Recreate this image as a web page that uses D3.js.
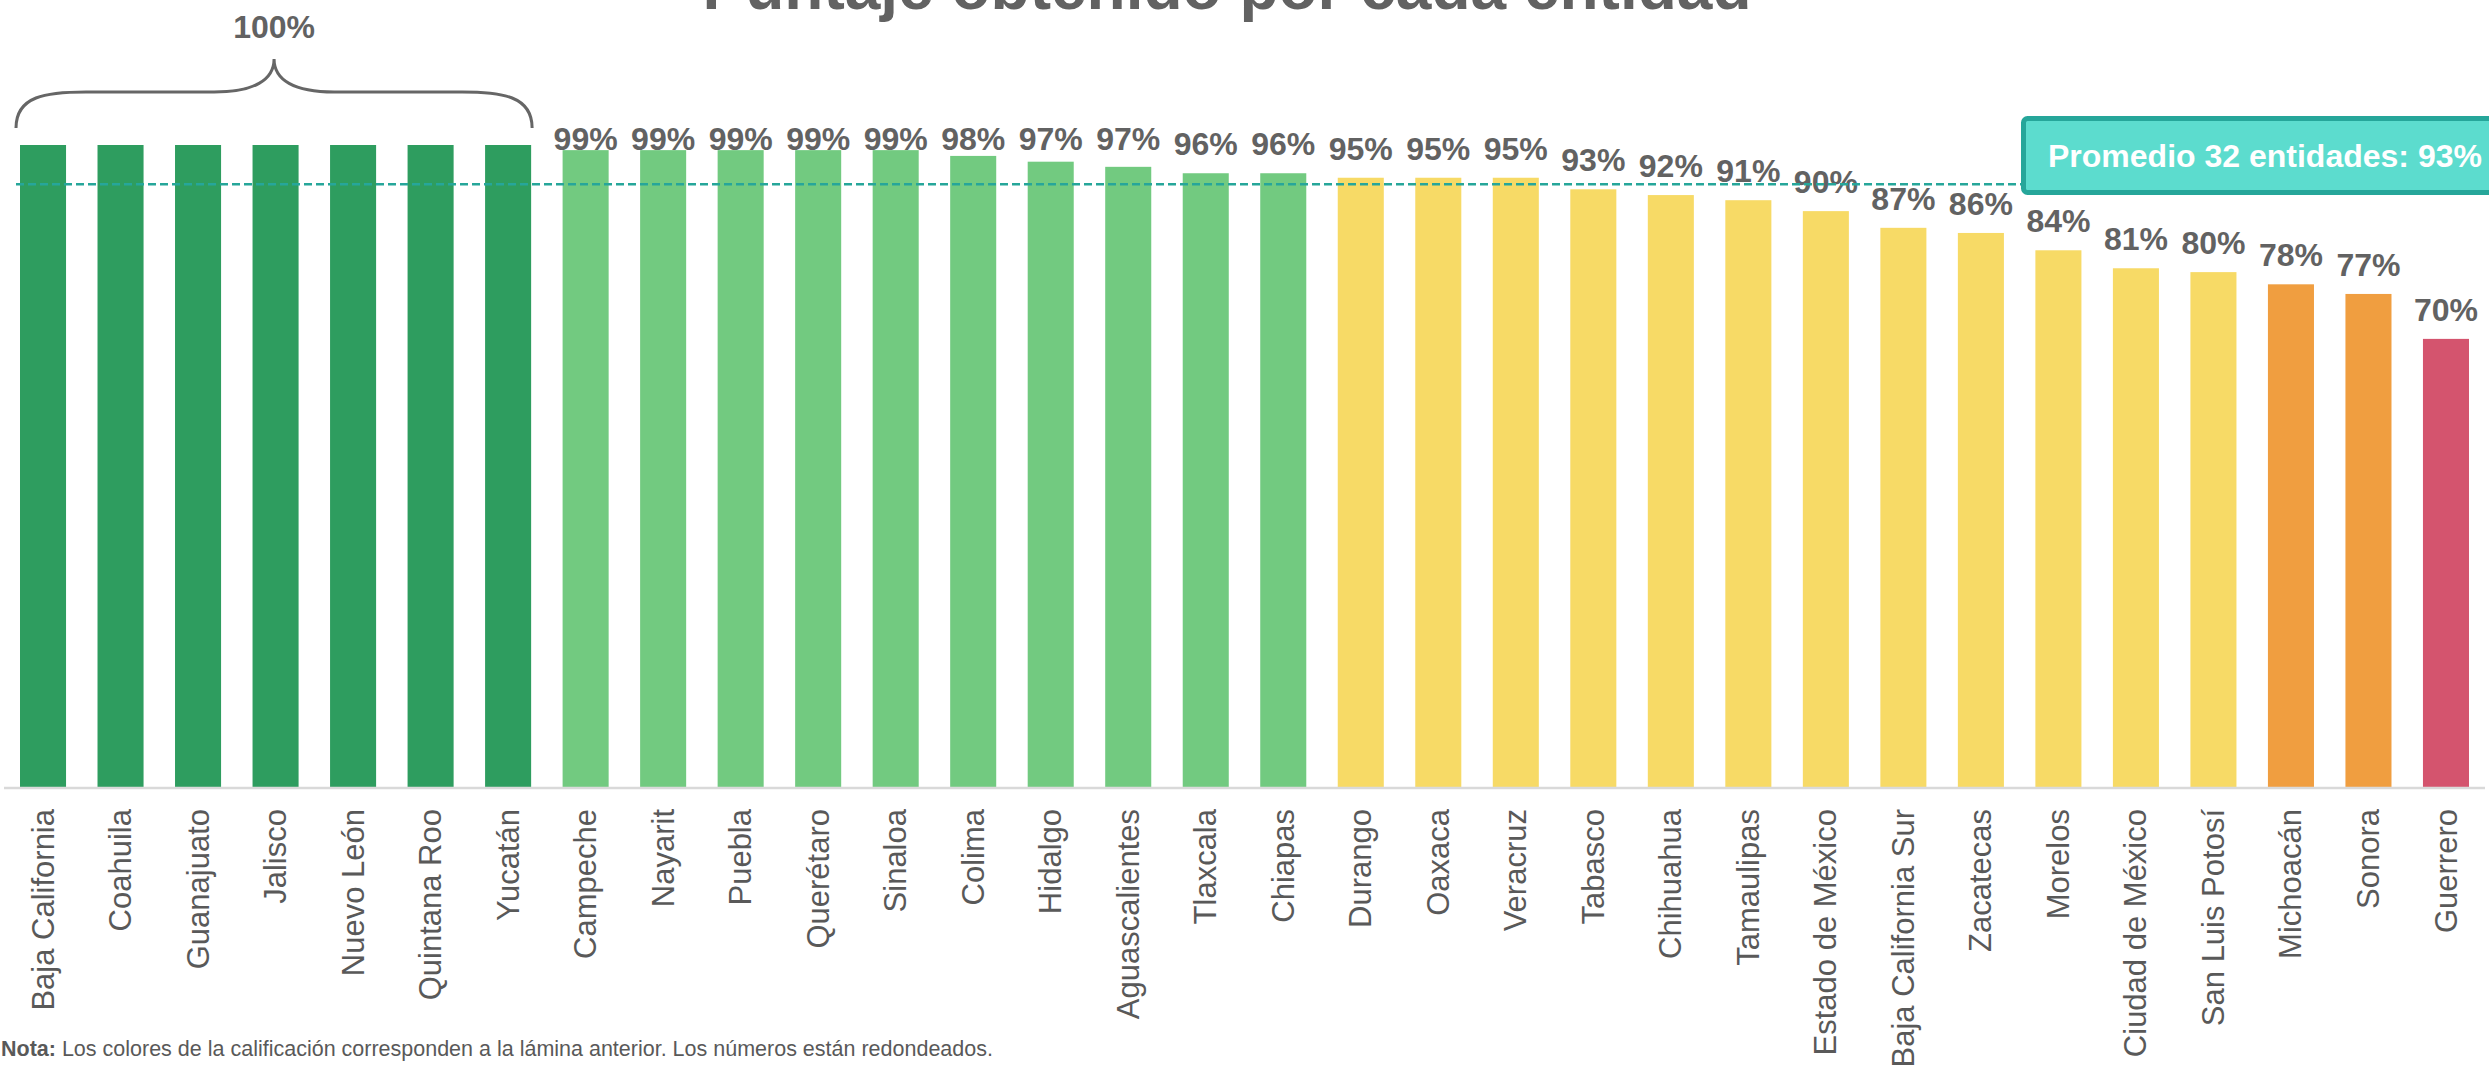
<!DOCTYPE html>
<html lang="es">
<head>
<meta charset="utf-8">
<title>Puntaje obtenido por cada entidad</title>
<script src="https://cdn.jsdelivr.net/npm/d3@7"></script>
<style>
    body { margin: 0; background: #ffffff; }
    svg { display: block; font-family: "Liberation Sans", Arial, sans-serif; }
</style>
</head>
<body>
<svg id="chart"></svg>
<script>
const estados = [
    "Baja California", "Coahuila", "Guanajuato", "Jalisco", "Nuevo León", "Quintana Roo", "Yucatán",
    "Campeche", "Nayarit", "Puebla", "Querétaro", "Sinaloa", "Colima", "Hidalgo", "Aguascalientes",
    "Tlaxcala", "Chiapas", "Durango", "Oaxaca", "Veracruz", "Tabasco", "Chihuahua", "Tamaulipas",
    "Estado de México", "Baja California Sur", "Zacatecas", "Morelos", "Ciudad de México",
    "San Luis Potosí", "Michoacán", "Sonora", "Guerrero"
];
const puntajes = [
    1.0, 1.0, 1.0, 1.0, 1.0, 1.0, 1.0,
    0.992, 0.992, 0.992, 0.992, 0.992, 0.983, 0.974, 0.966,
    0.956, 0.956, 0.949, 0.949, 0.949, 0.931, 0.922, 0.914,
    0.897, 0.871, 0.863, 0.836, 0.808,
    0.802, 0.783, 0.768, 0.698
];
// Entidades agrupadas bajo la llave de 100%
const grupoCien = ["Baja California", "Yucatán"];
const promedioTexto = "Promedio 32 entidades: 93%";
const promedioLinea = 0.939;
const titulo = "Puntaje obtenido por cada entidad";

const width = 2489;
const height = 1072;
const baseY = 787;

const svg = d3.select("#chart")
    .attr("width", width)
    .attr("height", height);

const x = d3.scaleBand()
    .domain(estados)
    .range([0, width])
    .paddingInner(0.406)
    .paddingOuter(0.258);

const y = d3.scaleLinear()
    .domain([0, 1])
    .range([baseY, 145]);

// Color según la calificación
const color = d3.scaleThreshold()
    .domain([0.75, 0.79, 0.955, 0.9995])
    .range(["#d4546e", "#f09e40", "#f7da66", "#72ca80", "#2e9d5f"]);

const fmt = d3.format(".0%");
const data = estados.map((e, i) => ({ estado: e, valor: puntajes[i] }));

// Title (cut off at top like the original)
svg.append("text")
    .attr("x", 1227)
    .attr("y", 9)
    .attr("text-anchor", "middle")
    .style("font-size", "64px")
    .style("font-weight", "bold")
    .style("fill", "#626262")
    .text(titulo);

// Bars
svg.append("g")
    .selectAll("rect")
    .data(data)
    .enter()
    .append("rect")
    .attr("x", d => x(d.estado))
    .attr("y", d => y(d.valor))
    .attr("width", x.bandwidth())
    .attr("height", d => baseY - y(d.valor))
    .attr("fill", d => color(d.valor));

// Axis line
svg.append("line")
    .attr("x1", 4)
    .attr("x2", width - 4)
    .attr("y1", baseY + 1)
    .attr("y2", baseY + 1)
    .attr("stroke", "#d9d9d9")
    .attr("stroke-width", 2.5);

// Category labels, rotated
svg.append("g")
    .selectAll("text")
    .data(data)
    .enter()
    .append("text")
    .attr("transform", d => `translate(${x(d.estado) + x.bandwidth() / 2}, 809) rotate(-90)`)
    .attr("text-anchor", "end")
    .attr("dy", "0.34em")
    .style("font-size", "31px")
    .style("fill", "#595959")
    .text(d => d.estado);

// Value labels (not for the 100% group)
const topeEtiqueta = y(1) + 5;
svg.append("g")
    .selectAll("text")
    .data(data.filter(d => d.valor < 0.9995))
    .enter()
    .append("text")
    .attr("x", d => x(d.estado) + x.bandwidth() / 2)
    .attr("y", d => Math.max(y(d.valor) - 18, topeEtiqueta))
    .attr("text-anchor", "middle")
    .style("font-size", "32px")
    .style("font-weight", "bold")
    .style("fill", "#626262")
    .text(d => fmt(d.valor));

// Average dashed line, drawn over the bars
const boxX = 2021;
svg.append("line")
    .attr("x1", 16)
    .attr("x2", boxX)
    .attr("y1", y(promedioLinea))
    .attr("y2", y(promedioLinea))
    .attr("stroke", "#26a69a")
    .attr("stroke-width", 2.5)
    .attr("stroke-dasharray", "8,4");

// Average box
svg.append("rect")
    .attr("x", boxX + 2.5)
    .attr("y", 118.5)
    .attr("width", width - boxX + 20)
    .attr("height", 74)
    .attr("rx", 4)
    .attr("fill", "#5cdcce")
    .attr("stroke", "#26a69a")
    .attr("stroke-width", 5);

svg.append("text")
    .attr("x", boxX + 27)
    .attr("y", 167)
    .style("font-size", "32px")
    .style("font-weight", "bold")
    .style("fill", "#ffffff")
    .text(promedioTexto);

// Curly brace over the 100% group
const bx0 = x(grupoCien[0]) - 4;
const bx1 = x(grupoCien[1]) + x.bandwidth() + 1;
const bxm = (bx0 + bx1) / 2;
const yEnd = 128, yMid = 92, yTip = 59;
const brace = d3.path();
brace.moveTo(bx0, yEnd);
brace.bezierCurveTo(bx0, yMid + 4, bx0 + 30, yMid, bx0 + 70, yMid);
brace.lineTo(bxm - 60, yMid);
brace.bezierCurveTo(bxm - 20, yMid, bxm, yMid - 12, bxm, yTip);
brace.bezierCurveTo(bxm, yMid - 12, bxm + 20, yMid, bxm + 60, yMid);
brace.lineTo(bx1 - 70, yMid);
brace.bezierCurveTo(bx1 - 30, yMid, bx1, yMid + 4, bx1, yEnd);

svg.append("path")
    .attr("d", brace.toString())
    .attr("fill", "none")
    .attr("stroke", "#666666")
    .attr("stroke-width", 3);

svg.append("text")
    .attr("x", bxm)
    .attr("y", 38)
    .attr("text-anchor", "middle")
    .style("font-size", "32px")
    .style("font-weight", "bold")
    .style("fill", "#626262")
    .text(fmt(1));

// Footnote
const nota = svg.append("text")
    .attr("x", 1)
    .attr("y", 1056)
    .style("font-size", "21.5px")
    .style("fill", "#595959");
nota.append("tspan").style("font-weight", "bold").text("Nota:");
nota.append("tspan").text(" Los colores de la calificación corresponden a la lámina anterior. Los números están redondeados.");
</script>
</body>
</html>
